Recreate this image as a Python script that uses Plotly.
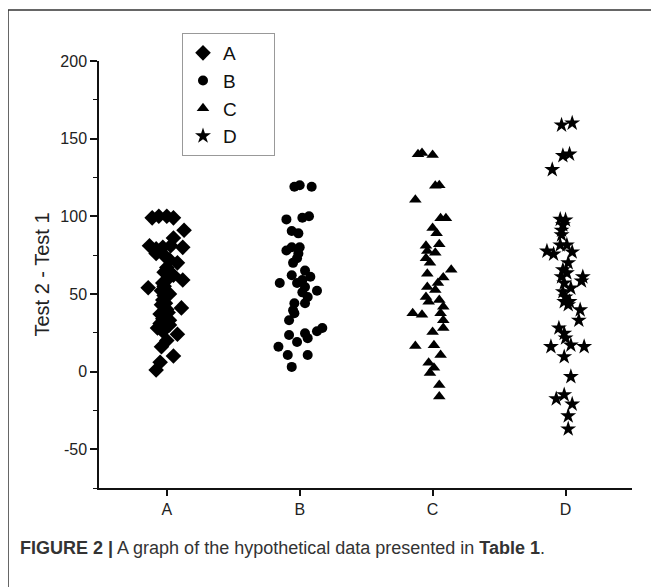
import plotly.graph_objects as go

categories = ["A", "B", "C", "D"]
y_tick_vals = [-50, 0, 50, 100, 150, 200]
y_tick_text = ["-50", "0", "50", "100", "150", "200"]

# values (Test 2 - Test 1) and horizontal jitter (category units)
a_vals = [99, 100, 100, 99, 86, 91, 81, 79, 80, 81, 80, 76, 72, 70, 67, 64, 62, 59, 54, 57,
          52, 49, 46, 43, 40, 41, 37, 34, 33, 28, 26, 24, 30, 16, 10, 6, 1, 74, 60, 55, 50, 44, 38, 31, 20]
a_jit = [-0.11, -0.06, 0.0, 0.05, 0.05, 0.13, -0.13, -0.08, -0.03, 0.03, 0.12, -0.08, 0.02, 0.08,
         0.0, -0.02, 0.05, 0.12, -0.14, -0.03, -0.04, -0.02, -0.03, -0.04, 0.0, 0.11, -0.05, -0.03,
         0.02, -0.07, -0.03, 0.08, 0.02, -0.04, 0.05, -0.05, -0.08, -0.01, 0.01, -0.02, 0.02, -0.01, 0.01, -0.05, 0.0]

b_vals = [119, 120, 119, 98, 99, 100, 90.5, 89, 78, 80, 80, 76, 73, 70, 62, 65, 61, 59, 57, 57,
          54.5, 52, 51, 48, 44, 44, 39.5, 37.5, 33, 28, 26, 24.6, 21.5, 23.5, 19, 16, 10.7, 10.7, 3]
b_jit = [-0.04, 0.0, 0.09, -0.1, 0.02, 0.07, -0.06, -0.01, -0.1, -0.06, 0.0, -0.01, -0.02, -0.05,
         -0.06, 0.04, 0.08, 0.02, -0.02, -0.15, 0.04, 0.13, 0.02, 0.06, 0.04, -0.04, -0.05, -0.04,
         -0.08, 0.17, 0.13, 0.04, 0.06, -0.08, -0.02, -0.16, -0.09, 0.06, -0.06]

c_vals = [140, 140.7, 139.5, 119.6, 120, 110.6, 98.8, 98.8, 92.5, 89, 81, 82, 77.6, 76.5, 73, 70,
          65.5, 63, 60.5, 57, 54.5, 52.5, 48, 45, 46, 41.7, 37.5, 36.5, 37.5, 33, 28, 25.5, 16.5,
          17, 10.7, 5.6, 2.4, -1, -8.6, -16]
c_jit = [-0.11, -0.08, 0.0, 0.02, 0.05, -0.13, 0.06, 0.1, 0.0, 0.03, -0.05, 0.05, -0.04, 0.02,
         -0.05, -0.02, 0.14, -0.04, 0.08, 0.04, -0.04, 0.02, -0.05, -0.03, 0.05, 0.08, -0.15, -0.08,
         0.06, 0.08, 0.08, 0.0, -0.13, 0.01, 0.06, -0.03, 0.01, -0.02, 0.05, 0.05]

d_vals = [158.7, 160, 139, 140, 130, 98, 97.6, 94.4, 91, 88, 77.5, 75.6, 81.5, 81.5, 77, 70, 65.5,
          63.5, 61, 61, 58.3, 57, 53.7, 51.4, 48, 45, 45, 43, 39.7, 33, 28, 24.6, 21.6, 16, 17, 16,
          9.5, -3.3, -17.6, -15, -21, -28.6, -37]
d_jit = [-0.03, 0.05, -0.02, 0.03, -0.1, -0.04, 0.0, -0.02, -0.03, -0.03, -0.14, -0.09, -0.04,
         0.01, 0.05, 0.02, -0.02, 0.01, -0.03, 0.13, 0.12, -0.01, 0.04, -0.02, 0.0, -0.01, 0.03,
         0.02, 0.11, 0.1, -0.05, -0.01, 0.0, -0.11, 0.04, 0.14, -0.01, 0.04, -0.07, -0.01, 0.05, 0.02, 0.02]

series = [
    ("A", a_vals, a_jit, "diamond", 12),
    ("B", b_vals, b_jit, "circle", 10),
    ("C", c_vals, c_jit, "triangle-up", 11),
    ("D", d_vals, d_jit, "star", 12),
]

fig = go.Figure()
PAD = "\u00a0" * 6  # keeps the legend box as wide as in the reference
for i, (name, vals, jit, sym, size) in enumerate(series):
    fig.add_trace(go.Scatter(
        x=[i + 1 + j for j in jit], y=vals, mode="markers", name=name + PAD,
        marker=dict(symbol=sym, size=size, color="black", line=dict(width=0)),
    ))

FONT = "Liberation Sans, Arial, sans-serif"
# the page body adds an 8 px offset, so the figure is laid out 8 px up/left
OFF = 8
W, H = 659 - OFF, 587 - OFF
L, T = 99 - OFF, 61 - OFF
R = W - (632 - OFF)
B = H - (488 - OFF)
pw, ph = W - L - R, H - T - B

def px(xp):
    return (xp - OFF - L) / pw

def py(yp):
    return (H - B - (yp - OFF)) / ph

fig.update_layout(
    width=W, height=H,
    margin=dict(l=L, r=R, t=T, b=B),
    paper_bgcolor="white", plot_bgcolor="white",
    font=dict(family=FONT, color="#222"),
    showlegend=True,
    legend=dict(
        x=px(182), y=py(33), xanchor="left", yanchor="top",
        bordercolor="#999", borderwidth=1, bgcolor="white",
        font=dict(size=19, family=FONT, color="#111"),
        itemsizing="trace", tracegroupgap=0,
    ),
    xaxis=dict(
        range=[0.49, 4.5], tickvals=[1, 2, 3, 4], ticktext=categories,
        showline=True, linecolor="#111", linewidth=1.5, mirror=False,
        ticks="outside", ticklen=6, tickwidth=1.5, tickcolor="#111",
        showgrid=False, zeroline=False,
        tickfont=dict(size=16, family=FONT, color="#222"),
    ),
    yaxis=dict(
        range=[-75, 200], tickvals=y_tick_vals, ticktext=y_tick_text,
        showline=True, linecolor="#111", linewidth=1.5,
        ticks="outside", ticklen=7, tickwidth=1.5, tickcolor="#111",
        minor=dict(tickvals=[-75, -25, 25, 75, 125, 175], ticks="outside", ticklen=4,
                   tickwidth=1.2, tickcolor="#111"),
        showgrid=False, zeroline=False,
        tickfont=dict(size=16, family=FONT, color="#222"),
        title=dict(text="Test 2 - Test 1", font=dict(size=20, family=FONT, color="#222"), standoff=5),
    ),
)

# outer frame (left and top edges)
fig.add_shape(type="line", xref="paper", yref="paper", x0=px(8), y0=py(10), x1=px(W + 20), y1=py(10),
              line=dict(color="#333", width=1.5))
fig.add_shape(type="line", xref="paper", yref="paper", x0=px(8), y0=py(10), x1=px(8), y1=py(H + 20),
              line=dict(color="#333", width=1.5))

fig.add_annotation(
    xref="paper", yref="paper", x=px(18), y=py(548), xanchor="left", yanchor="middle",
    showarrow=False,
    text="<b>FIGURE 2 |</b> A graph of the hypothetical data presented in <b>Table 1</b>.",
    font=dict(size=18, family=FONT, color="#333"),
)

fig.write_html("out.html")
